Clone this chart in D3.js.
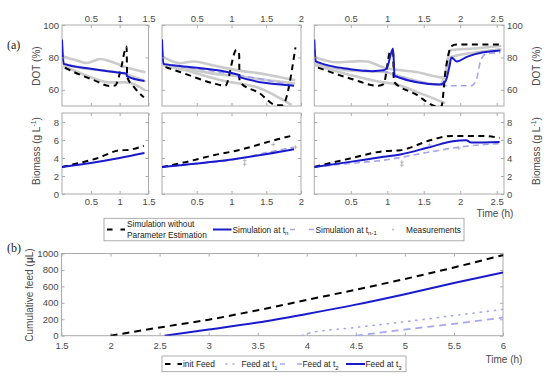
<!DOCTYPE html>
<html>
<head>
<meta charset="utf-8">
<script src="https://cdn.jsdelivr.net/npm/d3@7"></script>
<style>
  body { margin: 0; background: #fff; }
  svg { display: block; font-family: "Liberation Sans", Arial, sans-serif; }
</style>
</head>
<body>
<div id="chart"></div>
<script>
// ---- data (time in h) ----
const xMax = [1.5, 2, 2.6];
const xTicks = [[0.5, 1, 1.5], [0.5, 1, 1.5, 2], [0.5, 1, 1.5, 2, 2.5]];
const dotTicks = [60, 80, 100];
const bioTicks = [0, 2, 4, 6, 8];

// DOT (%) - simulation without parameter estimation
const dotNoEst = [
  [[0.05,73.6],[0.3,69.5],[0.55,66],[0.83,62.4],[0.92,62.6],[1.01,71],[1.12,86.7],[1.13,68],[1.25,61.6],[1.42,55.4]],
  [[0.05,74],[0.26,71],[0.74,64],[0.91,62.5],[1.07,84.6],[1.11,82],[1.115,65],[1.4,58],[1.65,50.5],[1.73,50.5],[1.92,86.2]],
  [[0.05,73.7],[0.49,67],[0.88,62.5],[0.95,63.5],[1.04,83.5],[1.08,84],[1.09,65],[1.4,57],[1.65,50],[1.74,49.5],[1.8,72],[1.88,87],[1.95,88],[2.54,88]]
];
// DOT - simulation at t_n
const dotSimTn = [
  [[0,91],[0.03,76],[0.5,73],[1.0,70.5],[1.12,70],[1.125,68.5],[1.43,65.5]],
  [[0,91],[0.02,76],[0.26,74.7],[1.1,69.3],[1.11,67.8],[1.9,62.5]],
  [[0,91],[0.02,77.5],[0.49,72.7],[0.8,71.5],[0.95,72],[1.0,74],[1.08,85.5],[1.1,68.5],[1.72,63.2],[1.8,65.5],[1.85,74],[1.88,80],[1.95,77.5],[2.1,80.5],[2.3,83],[2.55,84.3]]
];
// DOT - simulation at t_(n-1)
const dotSimTn1 = [
  [],
  [[0,91],[0.02,76],[0.26,74.5],[1.1,69],[1.9,62.8]],
  [[0,91],[0.02,77.5],[0.49,72.5],[0.95,71.5],[1.1,69],[1.72,63],[1.85,62.5],[2.15,62.5],[2.22,66],[2.28,78],[2.35,82],[2.55,83]]
];
// DOT - measurements (three replicates per experiment)
const dotMeas = [
  [
    [[0.03,80.5],[0.22,78.5],[0.43,76.5],[0.66,79],[0.83,77.6],[1.12,73.8],[1.43,71]],
    [[0.03,76],[0.43,73],[0.83,71.5],[1.12,69.5],[1.43,65.5]],
    [[0.03,74.7],[0.43,68.7],[0.83,64.6],[1.12,64.6],[1.43,60]]
  ],
  [
    [[0.03,80],[0.26,76.4],[0.45,77.5],[0.74,75],[1.1,72],[1.5,69.5],[1.9,66]],
    [[0.03,76],[0.26,74],[0.74,70],[1.1,68.3],[1.5,66],[1.9,64]],
    [[0.03,75],[0.26,72.9],[0.88,65.6],[1.41,61],[1.85,51]]
  ],
  [
    [[0.02,80],[0.3,77],[0.63,77.7],[0.72,77.5],[0.95,73.8],[1.4,71],[1.78,67.6],[1.83,80],[1.87,84.6],[2.2,85.5],[2.55,87]],
    [[0.02,76],[0.49,71.9],[0.95,71],[1.17,68.3],[1.72,63.1],[1.8,70],[1.86,80],[2.2,83],[2.55,85]],
    [[0.02,75],[0.49,69.2],[0.95,64.6],[1.1,63.5],[1.5,57],[1.78,52]]
  ]
];

// Biomass (g/L)
const bioNoEst = [
  [[0,3.0],[0.2,3.3],[0.6,3.95],[1.0,4.85],[1.15,4.9],[1.42,5.35]],
  [[0,3.0],[0.26,3.4],[0.74,4.3],[1.1,4.87],[1.65,6.05],[1.9,6.53]],
  [[0,3.0],[0.49,3.95],[0.95,4.76],[1.18,4.87],[1.59,5.97],[1.88,6.45],[2.3,6.45],[2.54,6.23]]
];
const bioSimTn = [
  [[0,3.0],[0.5,3.45],[1.0,4.0],[1.43,4.55]],
  [[0,3.0],[0.26,3.2],[1.1,3.95],[1.9,4.98]],
  [[0,3.0],[0.49,3.57],[0.95,4.13],[1.18,4.39],[1.59,5.23],[1.9,5.86],[2.08,5.97],[2.15,5.72],[2.54,5.79]]
];
const bioSimTn1 = [
  [],
  [[0,3.0],[0.5,3.35],[1.1,3.9],[1.5,4.6],[1.9,5.2]],
  [[0,3.0],[0.49,3.4],[0.95,3.76],[1.59,4.68],[2.0,5.23],[2.54,5.6]]
];
const bioMeas = [
  [],
  [[1.19,3.7],[1.19,3.3],[1.6,5.5],[1.92,5.2]],
  [[1.2,3.55],[1.2,3.2],[1.58,5.45],[1.98,5.1]]
];

// (b) cumulative feed (uL)
const feedTicksX = [1.5, 2, 2.5, 3, 3.5, 4, 4.5, 5, 5.5, 6];
const feedTicksY = [0, 200, 400, 600, 800, 1000];
const initFeed = [[2,0],[2.5,100],[3,195],[3.5,310],[4,435],[4.5,560],[5,690],[5.5,830],[6,980]];
const feedT1 = [[3.95,0],[4,25],[4.5,100],[5,170],[5.5,245],[6,320]];
const feedT2 = [[4.5,0],[5,75],[5.5,145],[6,220]];
const feedT3 = [[2.55,0],[3,75],[3.5,160],[4,265],[4.5,378],[5,505],[5.5,640],[6,770]];

// ---- drawing ----
const width = 550, height = 384;
const blue = "#1a1acd", lav = "#a6a6ee", grey = "#cbcbcb", boxCol = "#ababab", txtCol = "#4a4a4a";

const svg = d3.select("#chart").append("svg")
  .attr("width", width).attr("height", height);

const panelX = [[62, 148.5], [162, 301], [314.3, 504]];
const yDot = d3.scaleLinear().domain([50, 100]).range([106, 25]);
const yBio = d3.scaleLinear().domain([0, 9]).range([194, 113]);

function styleAxis(g) {
  g.select(".domain").remove();
  g.selectAll(".tick line").attr("stroke", boxCol);
  g.selectAll(".tick text").attr("fill", txtCol)
    .style("font-size", "9.5px").style("font-family", "Liberation Sans, Arial, sans-serif");
}

function box(x, y, id) {
  const [x0, x1] = x.range(), [y1, y0] = y.range();
  svg.append("clipPath").attr("id", id)
    .append("rect").attr("x", x0).attr("y", y0).attr("width", x1 - x0).attr("height", y1 - y0);
  svg.append("rect").attr("x", x0).attr("y", y0).attr("width", x1 - x0).attr("height", y1 - y0)
    .attr("fill", "none").attr("stroke", boxCol);
}

function axes(x, y, xt, yt, opts) {
  const [x0, x1] = x.range(), [y1, y0] = y.range();
  const fmt = d3.format("");
  svg.append("g").attr("transform", `translate(0,${y0})`)
    .call(d3.axisTop(x).tickValues(xt).tickSize(-3).tickPadding(3).tickFormat(opts.top ? fmt : ""))
    .call(styleAxis);
  svg.append("g").attr("transform", `translate(0,${y1})`)
    .call(d3.axisBottom(x).tickValues(xt).tickSize(-3).tickPadding(opts.padB || 4).tickFormat(opts.bottom ? fmt : ""))
    .call(styleAxis);
  svg.append("g").attr("transform", `translate(${x0},0)`)
    .call(d3.axisLeft(y).tickValues(yt).tickSize(-3).tickPadding(3).tickFormat(opts.left ? fmt : ""))
    .call(styleAxis);
  svg.append("g").attr("transform", `translate(${x1},0)`)
    .call(d3.axisRight(y).tickValues(yt).tickSize(-3).tickPadding(3).tickFormat(opts.right ? fmt : ""))
    .call(styleAxis);
}

function drawLine(data, x, y, clip, style) {
  if (!data.length) return;
  const line = d3.line().x(d => x(d[0])).y(d => y(d[1])).curve(d3.curveMonotoneX);
  svg.append("path").datum(data)
    .attr("clip-path", `url(#${clip})`)
    .attr("d", line)
    .attr("fill", "none")
    .attr("stroke", style.color)
    .attr("stroke-width", style.w)
    .attr("stroke-dasharray", style.dash || null)
    .attr("stroke-linecap", style.cap || "butt")
    .attr("stroke-linejoin", "round");
}

const sGrey = { color: grey, w: 2.6, cap: "round" };
const sLav = { color: lav, w: 1.6, dash: "6,4" };
const sBlack = { color: "#000", w: 2, dash: "6,4.5" };
const sBlue = { color: blue, w: 2 };

xMax.forEach((m, i) => {
  const x = d3.scaleLinear().domain([0, m]).range(panelX[i]);

  // DOT panel
  box(x, yDot, "cd" + i);
  dotMeas[i].forEach(c => drawLine(c, x, yDot, "cd" + i, sGrey));
  drawLine(dotSimTn1[i], x, yDot, "cd" + i, sLav);
  drawLine(dotNoEst[i], x, yDot, "cd" + i, sBlack);
  drawLine(dotSimTn[i], x, yDot, "cd" + i, sBlue);
  axes(x, yDot, xTicks[i], dotTicks, { top: true, bottom: false, left: i === 0, right: i === 2 });

  // Biomass panel
  box(x, yBio, "cb" + i);
  drawLine(bioSimTn1[i], x, yBio, "cb" + i, sLav);
  drawLine(bioNoEst[i], x, yBio, "cb" + i, sBlack);
  drawLine(bioSimTn[i], x, yBio, "cb" + i, sBlue);
  svg.append("g").selectAll("path").data(bioMeas[i]).join("path")
    .attr("transform", d => `translate(${x(d[0])},${yBio(d[1])})`)
    .attr("d", "M-2,0H2M0,-2V2")
    .attr("stroke", "#aaa").attr("stroke-width", 0.8);
  axes(x, yBio, xTicks[i], bioTicks, { top: false, bottom: true, left: i === 0, right: i === 2 });
});

// axis titles (a)
function label(txt, x, y, rot, size, anchor) {
  return svg.append("text")
    .attr("transform", `translate(${x},${y})` + (rot ? ` rotate(${rot})` : ""))
    .attr("text-anchor", anchor || "middle")
    .attr("fill", txtCol)
    .style("font-size", (size || 10) + "px")
    .text(txt);
}
label("DOT (%)", 40, 66, -90);
label("DOT (%)", 540, 66, -90);
[[40, 151], [540, 151]].forEach(p => {
  const t = label("Biomass (g L", p[0], p[1], -90);
  t.append("tspan").attr("dy", -4).style("font-size", "7px").text("-1");
  t.append("tspan").attr("dy", 4).text(")");
});
label("Time (h)", 495, 217, 0, 10);

svg.append("text").attr("x", 7).attr("y", 49)
  .style("font-family", "Liberation Serif, Times New Roman, serif").style("font-size", "12px")
  .attr("fill", "#222").text("(a)");
svg.append("text").attr("x", 7).attr("y", 252)
  .style("font-family", "Liberation Serif, Times New Roman, serif").style("font-size", "12px")
  .attr("fill", "#222").text("(b)");

// legend (a)
const lg = svg.append("g").style("font-size", "8.3px");
lg.append("rect").attr("x", 104).attr("y", 218.3).attr("width", 360).attr("height", 22.5)
  .attr("fill", "#fff").attr("stroke", "#9a9a9a").attr("stroke-width", 0.8);
function legLine(g, x0, x1, y, style) {
  g.append("line").attr("x1", x0).attr("x2", x1).attr("y1", y).attr("y2", y)
    .attr("stroke", style.color).attr("stroke-width", style.w)
    .attr("stroke-dasharray", style.dash || null)
    .attr("stroke-linecap", style.cap || "butt");
}
function legText(g, x, y, txt, sub) {
  const t = g.append("text").attr("x", x).attr("y", y).attr("fill", "#222").text(txt);
  if (sub) t.append("tspan").attr("dy", 2.5).style("font-size", "6px").text(sub);
  return t;
}
legLine(lg, 107, 125, 229.5, { color: "#000", w: 2, dash: "5.5,8" });
legText(lg, 127, 226.5, "Simulation without");
legText(lg, 127, 238, "Parameter Estimation");
legLine(lg, 213, 231.5, 229.5, sBlue);
legText(lg, 232.5, 232.5, "Simulation at t", "n");
legLine(lg, 290, 315, 229.5, { color: lav, w: 1.6, dash: "5,14" });
legText(lg, 315.5, 232.5, "Simulation at t", "n-1");
lg.append("circle").attr("cx", 393).attr("cy", 229.5).attr("r", 1).attr("fill", "#bbb");
legText(lg, 406, 232.5, "Measurements");

// ---- (b) cumulative feed ----
const xF = d3.scaleLinear().domain([1.5, 6]).range([61.5, 503]);
const yF = d3.scaleLinear().domain([0, 1000]).range([335.7, 253.5]);
box(xF, yF, "cf");
axes(xF, yF, feedTicksX, feedTicksY, { top: false, bottom: true, left: true, right: false, padB: 7 });
drawLine(feedT1, xF, yF, "cf", { color: lav, w: 1.6, dash: "1.2,6", cap: "round" });
drawLine(feedT2, xF, yF, "cf", { color: lav, w: 1.8, dash: "7,5" });
drawLine(initFeed, xF, yF, "cf", { color: "#000", w: 2, dash: "7,5" });
drawLine(feedT3, xF, yF, "cf", sBlue);

const tf = label("Cumulative feed (", 33, 295, -90);
tf.append("tspan").style("font-weight", "bold").text("μ");
tf.append("tspan").text("L)");
label("Time (h)", 504, 363, 0, 10);

const lb = svg.append("g").style("font-size", "8.3px");
lb.append("rect").attr("x", 162).attr("y", 356).attr("width", 244).attr("height", 15.7)
  .attr("fill", "#fff").attr("stroke", "#9a9a9a").attr("stroke-width", 0.8);
legLine(lb, 165, 182, 364, { color: "#000", w: 2, dash: "5.5,7" });
legText(lb, 183, 367, "init Feed");
legLine(lb, 226, 236, 364, { color: lav, w: 1.4, dash: "1,6", cap: "round" });
legText(lb, 241.5, 367, "Feed at t", "1");
legLine(lb, 280, 302, 364, { color: lav, w: 1.6, dash: "5,12" });
legText(lb, 302.5, 367, "Feed at t", "2");
legLine(lb, 346, 365, 364, sBlue);
legText(lb, 365.5, 367, "Feed at t", "3");
</script>
</body>
</html>
